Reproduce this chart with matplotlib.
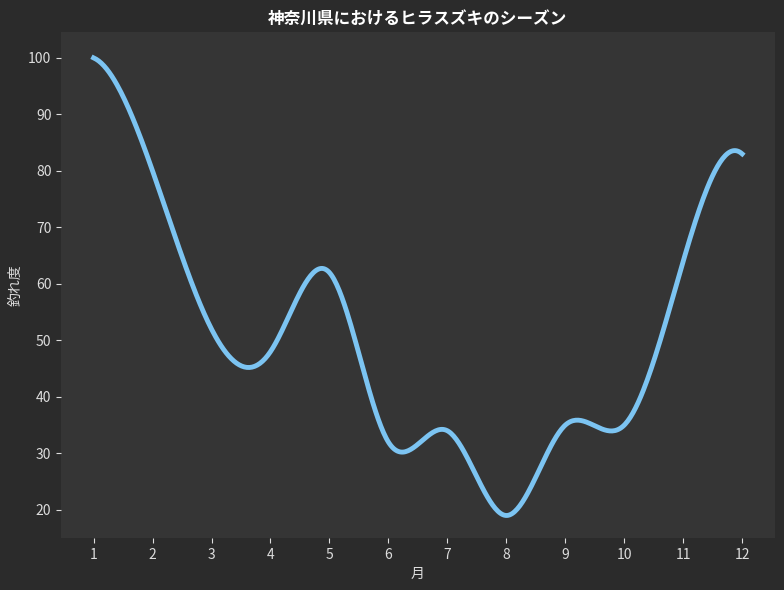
import numpy as np
import matplotlib
matplotlib.use("Agg")
import matplotlib.pyplot as plt

plt.rcParams['font.family'] = ['Noto Sans CJK JP', 'DejaVu Sans']

months = [1, 2, 3, 4, 5, 6, 7, 8, 9, 10, 11, 12]
catch = [100, 80, 52, 48, 62, 32, 34, 19, 35, 35, 64, 83]

def spline(x, y, xs):
    # not-a-knot cubic spline
    x = np.asarray(x, float); y = np.asarray(y, float)
    n = len(x); h = np.diff(x)
    A = np.zeros((n, n)); b = np.zeros(n)
    A[0, 0] = h[1]; A[0, 1] = -(h[0] + h[1]); A[0, 2] = h[0]
    A[-1, -3] = h[-1]; A[-1, -2] = -(h[-2] + h[-1]); A[-1, -1] = h[-2]
    for i in range(1, n - 1):
        A[i, i-1] = h[i-1]; A[i, i] = 2 * (h[i-1] + h[i]); A[i, i+1] = h[i]
        b[i] = 6 * ((y[i+1] - y[i]) / h[i] - (y[i] - y[i-1]) / h[i-1])
    M = np.linalg.solve(A, b)
    idx = np.clip(np.searchsorted(x, xs) - 1, 0, n - 2)
    x0 = x[idx]; x1 = x[idx+1]; hh = x1 - x0
    return (M[idx] * (x1 - xs)**3 / (6*hh) + M[idx+1] * (xs - x0)**3 / (6*hh)
            + (y[idx]/hh - M[idx]*hh/6) * (x1 - xs) + (y[idx+1]/hh - M[idx+1]*hh/6) * (xs - x0))

xs = np.linspace(1, 12, 500)
ys = spline(months, catch, xs)

fig = plt.figure(figsize=(7.84, 5.90), dpi=100, facecolor='#2b2b2b')
ax = fig.add_axes([0.078, 0.088, 0.91, 0.857], facecolor='#353535')
ax.plot(xs, ys, color='#7cc4f2', lw=3.5)
ax.set_xlim(0.45, 12.55)
ax.set_ylim(15, 104.5)
ax.set_xticks(months)
ax.set_yticks(range(20, 101, 10))
for s in ax.spines.values():
    s.set_visible(False)
ax.tick_params(colors='#dddddd', labelsize=10)
ax.set_xlabel('月', color='#dddddd', fontsize=10)
ax.set_ylabel('釣れ度', color='#dddddd', fontsize=10)
ax.set_title('神奈川県におけるヒラスズキのシーズン', color='white', fontsize=12, fontweight='bold', pad=6)
fig.savefig('out.png', dpi=100, facecolor=fig.get_facecolor())
